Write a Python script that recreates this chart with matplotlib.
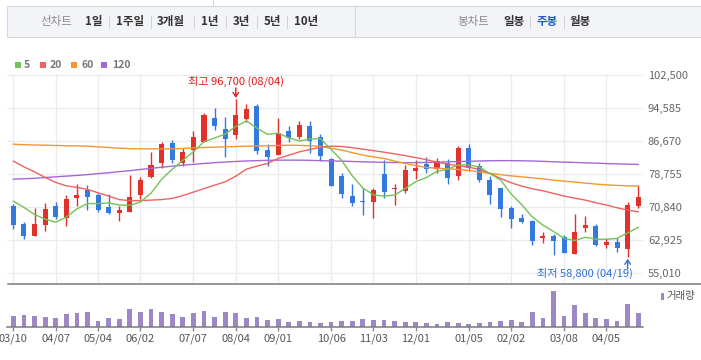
import matplotlib
matplotlib.use('Agg')
import matplotlib.pyplot as plt
import matplotlib.transforms as mtransforms
from matplotlib.patches import Rectangle
from matplotlib.lines import Line2D
import pandas as pd

plt.rcParams['font.family'] = ['Noto Sans CJK KR', 'DejaVu Sans']

W, H = 701, 360

# weekly candles (2023-03-10 .. 2024-04-26)
opens = [71100, 66800, 64000, 66600, 71100, 68300, 73100, 74900, 73700, 70900,
         69500, 69700, 73800, 78000, 81500, 86200, 81500, 84500, 86500, 92100,
         89500, 88200, 91900, 95000, 84500, 83400, 89000, 87600, 90200, 87600,
         82300, 78300, 73500, 72300, 72100, 78800, 75200, 74800, 79500, 81300,
         80000, 81500, 78400, 84900, 80800, 77300, 75400, 70600, 68200, 67500,
         63400, 64000, 63600, 59700, 65900, 66300, 61900, 62500, 60800, 71200]
highs = [71600, 67300, 70600, 71800, 72100, 73700, 76400, 76100, 74300, 73900,
         71100, 78500, 78100, 84000, 86500, 86900, 85100, 89000, 93400, 94500,
         92500, 96700, 95500, 95500, 85900, 92300, 90200, 91400, 91400, 88300,
         82600, 79000, 76400, 75400, 75400, 82100, 76500, 81000, 82100, 82800,
         82600, 82300, 85500, 85900, 81400, 78200, 75400, 71100, 69200, 67800,
         64800, 64500, 64300, 69300, 68800, 66900, 63500, 63500, 72000, 76100]
lows = [65700, 63300, 63900, 65200, 68100, 66400, 71100, 70200, 69700, 69300,
        67600, 69700, 72900, 77900, 80300, 81500, 80700, 81600, 86500, 89300,
        82900, 87200, 91300, 83700, 80700, 83400, 86500, 87200, 83900, 81800,
        75900, 73100, 71200, 69000, 68300, 73100, 71400, 74300, 77600, 79100,
        79100, 76400, 77400, 79500, 76900, 71700, 68500, 65900, 67100, 61900,
        62300, 59500, 59900, 59700, 65000, 61600, 61100, 60200, 58800, 70700]
closes = [66600, 64000, 66800, 70300, 68500, 72800, 73700, 73300, 70200, 69400,
          70200, 73300, 77300, 80900, 85900, 82200, 84000, 87600, 92900, 90300,
          87100, 92900, 94300, 84300, 82800, 88600, 87300, 90500, 86600, 83100,
          76000, 74100, 71900, 72100, 74900, 74500, 75400, 79700, 80200, 80000,
          81800, 77900, 84900, 80300, 77400, 73800, 70500, 68100, 67400, 62800,
          64000, 62800, 59900, 64800, 66600, 61900, 62500, 61100, 71300, 73300]
# closes of the 4 weeks before the window (for the 5-week average)
prev_closes = [71500, 75200, 75900, 72200]

volumes = [1100, 1200, 1100, 1000, 900, 1300, 1400, 1500, 600, 900,
           800, 1800, 1500, 1800, 1500, 1300, 1000, 1400, 1600, 1000,
           1500, 1400, 900, 1000, 700, 800, 500, 600, 500, 400,
           500, 600, 600, 800, 700, 700, 600, 500, 500, 400,
           300, 500, 400, 300, 400, 500, 600, 700, 500, 1500,
           900, 3600, 1100, 2200, 1400, 900, 800, 600, 2300, 1400]

ma20 = [81870, 80500, 79310, 77970, 76770, 75960, 75580, 75100, 74290, 73500,
        72660, 72420, 72420, 72540, 72660, 72950, 73620, 74450, 75290, 76130,
        76920, 78280, 79950, 80670, 81320, 82510, 83300, 84090, 84660, 85210,
        85450, 85380, 85090, 84740, 84380, 84020, 83610, 83180, 82700, 82230,
        81630, 81150, 80790, 80430, 79880, 78930, 77730, 76680, 75890, 75240,
        74770, 74140, 73500, 73020, 72540, 71900, 71350, 70700, 70150, 69740]
ma60 = [85930, 85810, 85740, 85690, 85620, 85570, 85520, 85450, 85290, 85140,
        84970, 84860, 84810, 84810, 84810, 84810, 84900, 85050, 85140, 85210,
        85290, 85380, 85450, 85500, 85520, 85620, 85690, 85640, 85570, 85410,
        84970, 84500, 83900, 83300, 82890, 82510, 81870, 81320, 80790, 80360,
        80190, 80030, 79880, 79640, 79280, 78930, 78640, 78350, 78110, 77870,
        77610, 77320, 77080, 76850, 76610, 76370, 76200, 76060, 75960, 75890]
ma120 = [77560, 77660, 77750, 77950, 78110, 78280, 78450, 78640, 78880, 79090,
         79360, 79590, 79880, 80140, 80410, 80670, 80910, 81100, 81320, 81510,
         81650, 81790, 81910, 81990, 82060, 82110, 82110, 82110, 82060, 81990,
         81910, 81870, 81790, 81720, 81650, 81580, 81530, 81510, 81510, 81560,
         81630, 81700, 81770, 81840, 81910, 81960, 81990, 81990, 81960, 81910,
         81820, 81720, 81630, 81560, 81460, 81390, 81290, 81220, 81150, 81080]

tick_idx = [0, 4, 8, 12, 17, 21, 25, 30, 34, 38, 43, 47, 52, 56]
tick_labels = ['03/10', '04/07', '05/04', '06/02', '07/07', '08/04', '09/01',
               '10/06', '11/03', '12/01', '01/05', '02/02', '03/08', '04/05']
price_ticks = [55010, 62925, 70840, 78755, 86670, 94585, 102500]

hi_idx, hi_text = 21, '최고 96,700 (08/04)'
lo_idx, lo_text = 58, '최저 58,800 (04/19)'

RED = '#e2312b'
BLUE = '#3379e0'
VOL = '#9d87c6'
ma_colors = {'5': '#74c257', '20': '#f06262', '60': '#f7952f', '120': '#a268d6'}


def box(x0, y0, x1, y1):
    return [x0 / W, 1 - y1 / H, (x1 - x0) / W, (y1 - y0) / H]


fig = plt.figure(figsize=(W / 100, H / 100), dpi=100)
px = mtransforms.Affine2D().scale(1 / W, -1 / H).translate(0, 1) + fig.transFigure

# ---- top tab bar ----
fig.add_artist(Line2D([213, 213], [0, 6], transform=px, color='#d6d8de', lw=0.8))
fig.add_artist(Rectangle((7, 6), 700, 31, transform=px, facecolor='#f3f4f7',
                         edgecolor='#d6d8de', lw=0.8))
fig.add_artist(Line2D([355, 355], [6, 37], transform=px, color='#d6d8de', lw=0.8))

ty = 21.5
fs = 8.3
fig.text(40 / W, 1 - ty / H, '선차트', color='#8a8a8a', fontsize=fs, va='center')
left_tabs = [('1일', 85), ('1주일', 116), ('3개월', 157), ('1년', 201),
             ('3년', 233), ('5년', 264), ('10년', 294)]
for lab, x in left_tabs:
    fig.text(x / W, 1 - ty / H, lab, color='#333333', fontsize=fs, fontweight='bold', va='center')
for x in [109, 151, 194, 226, 257, 287]:
    fig.add_artist(Line2D([x, x], [ty - 6, ty + 6], transform=px, color='#d0d0d0', lw=0.7))
fig.text(457 / W, 1 - ty / H, '봉차트', color='#8a8a8a', fontsize=fs, va='center')
fig.text(503 / W, 1 - ty / H, '일봉', color='#333333', fontsize=fs, fontweight='bold', va='center')
fig.text(537 / W, 1 - ty / H, '주봉', color='#1f5bc6', fontsize=fs, fontweight='bold', va='center')
fig.text(570 / W, 1 - ty / H, '월봉', color='#333333', fontsize=fs, fontweight='bold', va='center')
for x in [530, 564]:
    fig.add_artist(Line2D([x, x], [ty - 6, ty + 6], transform=px, color='#d0d0d0', lw=0.7))

# ---- MA legend ----
leg = [('5', 15, 24), ('20', 40, 50), ('60', 71, 81), ('120', 101, 112)]
for name, sx, tx in leg:
    fig.add_artist(Rectangle((sx, 61.5), 6, 6, transform=px, color=ma_colors[name], lw=0))
    fig.text(tx / W, 1 - 64.5 / H, name, color='#777777', fontsize=7.5,
             fontweight='bold', va='center')

# ---- price chart ----
ax = fig.add_axes(box(7, 74, 643, 283))
ymin = 55010 - 9.7 * 239.5
ax.set_ylim(ymin, 102500 + 239.5)
ax.set_xlim(-0.6, 59.45)

x = list(range(len(closes)))
colors = [RED if c >= o else BLUE for o, c in zip(opens, closes)]
bottoms = [min(o, c) for o, c in zip(opens, closes)]
heights = [max(abs(c - o), 240) for o, c in zip(opens, closes)]
ax.vlines(x, lows, highs, colors=colors, lw=1.0, zorder=2)
ax.bar(x, heights, bottom=bottoms, width=0.48, color=colors, lw=0, zorder=2)

ma5 = pd.Series(prev_closes + closes).rolling(5).mean().iloc[4:].to_numpy()
ax.plot(x, ma120, color=ma_colors['120'], lw=1.0, zorder=3)
ax.plot(x, ma60, color=ma_colors['60'], lw=1.0, zorder=3)
ax.plot(x, ma20, color=ma_colors['20'], lw=1.0, zorder=3)
ax.plot(x, ma5, color=ma_colors['5'], lw=1.0, zorder=3)

ax.set_xticks(tick_idx)
ax.set_yticks(price_ticks)
ax.set_yticklabels([f'{v:,}' for v in price_ticks])
ax.yaxis.tick_right()
ax.tick_params(axis='x', length=0, labelbottom=False)
ax.tick_params(axis='y', length=0, pad=3.6, labelsize=8, labelcolor='#666666')
ax.grid(True, color='#ececec', lw=1.0, zorder=0)
ax.set_axisbelow(True)
for s in ax.spines.values():
    s.set_visible(False)

# high / low markers
ax.annotate(hi_text, xy=(hi_idx, highs[hi_idx]), xytext=(0, 13), textcoords='offset points',
            ha='center', va='center', color='#e8171c', fontsize=8)
ax.annotate('', xy=(hi_idx, highs[hi_idx]), xytext=(0, 8), textcoords='offset points',
            arrowprops=dict(arrowstyle='->,head_length=0.3,head_width=0.2', color='#e8171c',
                            lw=1.0, shrinkA=0, shrinkB=1))
ax.annotate(lo_text, xy=(lo_idx, lows[lo_idx]), xytext=(3.6, -11), textcoords='offset points',
            ha='right', va='center', color='#2a6fd6', fontsize=8)
ax.annotate('', xy=(lo_idx, lows[lo_idx]), xytext=(0, -8), textcoords='offset points',
            arrowprops=dict(arrowstyle='->,head_length=0.3,head_width=0.2', color='#2a6fd6',
                            lw=1.0, shrinkA=0, shrinkB=1))

# separator between price and volume
fig.add_artist(Line2D([8, 701], [283.5, 283.5], transform=px, color='#7a7a7a', lw=1.1))

# ---- volume ----
vax = fig.add_axes(box(7, 285, 643, 327))
vax.bar(x, volumes, width=0.45, color=VOL, lw=0)
vax.set_xlim(-0.6, 59.45)
vax.set_ylim(0, 4200)
vax.set_yticks([])
vax.set_xticks(tick_idx)
vax.set_xticklabels(tick_labels)
vax.tick_params(axis='x', length=3, width=1, color='#888888', pad=1.5,
                labelsize=8, labelcolor='#555555')
for name, s in vax.spines.items():
    s.set_visible(name == 'bottom')
vax.spines['bottom'].set_color('#7a7a7a')
vax.spines['bottom'].set_linewidth(1.1)

fig.add_artist(Rectangle((661, 292.5), 3, 7, transform=px, color=VOL, lw=0))
fig.text(666 / W, 1 - 296 / H, '거래량', color='#555555', fontsize=7.5, va='center')

fig.savefig('out.png', dpi=100)
